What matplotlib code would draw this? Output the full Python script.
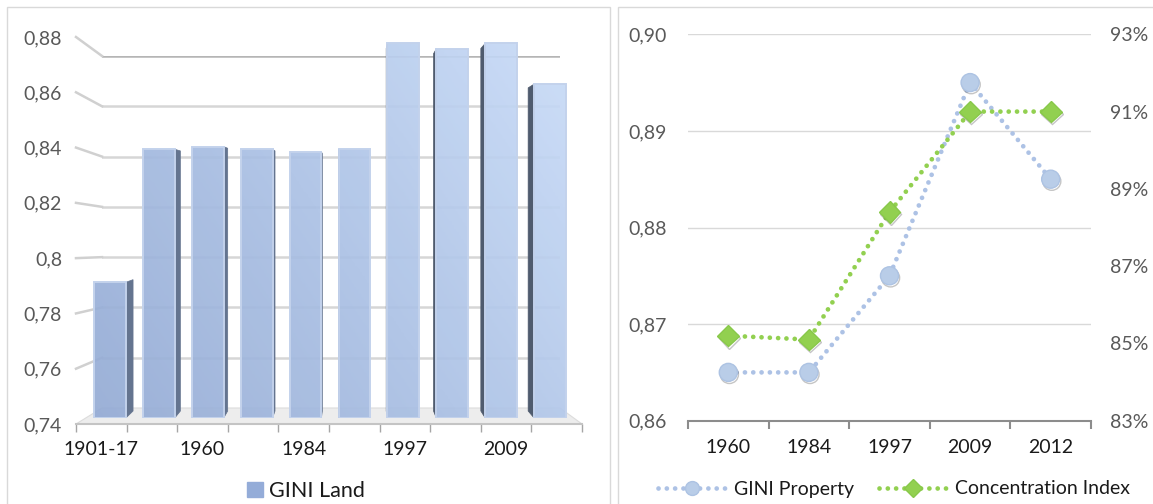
import numpy as np
import matplotlib
matplotlib.use("Agg")
import matplotlib.pyplot as plt
from matplotlib.patches import Polygon, Rectangle, PathPatch, Patch
from matplotlib.path import Path
from matplotlib.lines import Line2D
from matplotlib.colors import LinearSegmentedColormap
from matplotlib import patheffects

plt.rcParams['font.family'] = ['Lato', 'DejaVu Sans']

# ---- data -------------------------------------------------------------
land_values = [0.790, 0.839, 0.840, 0.839, 0.838, 0.839, 0.878, 0.876, 0.878, 0.863]
land_labels = ['1901-17', '1960', '1984', '1997', '2009']   # every other slot
land_ticks = [0.74, 0.76, 0.78, 0.80, 0.82, 0.84, 0.86, 0.88]
land_tick_labels = ['0,74', '0,76', '0,78', '0,8', '0,82', '0,84', '0,86', '0,88']

prop_years = ['1960', '1984', '1997', '2009', '2012']
gini_property = [0.865, 0.865, 0.875, 0.895, 0.885]
concentration_index = [85.2, 85.1, 88.4, 91.0, 91.0]
prop_ticks = [0.86, 0.87, 0.88, 0.89, 0.90]
prop_tick_labels = ['0,86', '0,87', '0,88', '0,89', '0,90']
conc_ticks = [83, 85, 87, 89, 91, 93]
conc_tick_labels = ['83%', '85%', '87%', '89%', '91%', '93%']

# ---- figure -----------------------------------------------------------
W, H = 1153, 504
fig = plt.figure(figsize=(W / 100, H / 100), dpi=100)
fig.patch.set_facecolor('white')


def px_axes(left, top, right, bottom, **kw):
    return fig.add_axes([left / W, 1 - bottom / H, (right - left) / W, (bottom - top) / H], **kw)


def to_fig(ax, x, y):
    d = ax.transData.transform((x, y))
    return fig.transFigure.inverted().transform(d)


# panel frames
for (l, t, r, b) in [(7, 7, 610, 520), (618, 7, 1170, 520)]:
    fig.add_artist(Rectangle((l / W, 1 - b / H), (r - l) / W, (b - t) / H,
                             transform=fig.transFigure, fill=False,
                             edgecolor='#d9d9d9', lw=1.0, zorder=-2))

LABEL_GREY = '#595959'
TEXT_DARK = '#1a1a1a'
FS = 14

# ---- left chart: GINI Land (3-D style columns) -------------------------
ax_wall = px_axes(102, 56, 560, 408)
ax_wall.set_zorder(-3)
ax_wall.set_xlim(0, 1)
ax_wall.set_ylim(0.74, 0.88)
ax_wall.axis('off')
for v in land_ticks[1:]:
    ax_wall.axhline(v, color='#b5b5b5' if v == land_ticks[-1] else '#d6d6d6', lw=1.8, zorder=1)

ax_front = px_axes(76, 37, 582, 424)
ax_front.set_zorder(-1)
ax_front.set_xlim(0, 10)
ax_front.set_ylim(0.74, 0.88)
ax_front.patch.set_visible(False)
for s in ['top', 'right', 'left']:
    ax_front.spines[s].set_visible(False)
ax_front.spines['bottom'].set_color('#c4c4c4')
ax_front.spines['bottom'].set_linewidth(1.5)
ax_front.set_yticks(land_ticks, land_tick_labels)
ax_front.tick_params(axis='y', length=0, pad=10, labelsize=FS, labelcolor=LABEL_GREY)
ax_front.set_xticks(np.arange(0, 11))
ax_front.set_xticklabels([])
ax_front.tick_params(axis='x', which='major', length=6, width=1, color='#a6a6a6', direction='out')
ax_front.set_xticks(np.arange(0.5, 10, 2), minor=True)
ax_front.set_xticklabels(land_labels, minor=True)
ax_front.tick_params(axis='x', which='minor', length=0, pad=12, labelsize=FS, labelcolor=TEXT_DARK)

# floor and the slanted grid stubs joining front labels to the back wall
bl = to_fig(ax_wall, 0, 0.74)
br = to_fig(ax_wall, 1, 0.74)
fr = to_fig(ax_front, 10, 0.74)
fl = to_fig(ax_front, 0, 0.74)
fig.add_artist(Polygon([bl, br, fr, fl], closed=True, transform=fig.transFigure,
                       facecolor='#ededed', edgecolor='#dcdcdc', lw=0.8, zorder=-2))
for v in land_ticks[1:]:
    p0 = to_fig(ax_front, 0, v)
    p1 = to_fig(ax_wall, 0, v)
    fig.add_artist(Line2D([p0[0], p1[0]], [p0[1], p1[1]], transform=fig.transFigure,
                          color='#d0d0d0', lw=1.8, zorder=-2))

ax_bar = px_axes(85.6, 38, 574.4, 418)
ax_bar.set_xlim(-0.5, 9.5)
ax_bar.set_ylim(0.74, 0.88)
ax_bar.axis('off')

bar_w = 0.65
xs = np.arange(len(land_values))
bars = ax_bar.bar(xs, np.array(land_values) - 0.74, bottom=0.74, width=bar_w,
                  facecolor='none', edgecolor='#c3d2ec', lw=1.4, zorder=4)

# gradient fill clipped to the column fronts
cmap = LinearSegmentedColormap.from_list('land', ['#93aad4', '#abc1e5', '#c9dcf8'])
gx, gy = np.meshgrid(np.linspace(0, 1, 200), np.linspace(0, 1, 200))
grad = 0.65 * gx + 0.35 * gy
im = ax_bar.imshow(grad, extent=[-0.5, 9.5, 0.74, 0.88], origin='lower', cmap=cmap,
                   aspect='auto', alpha=0.92, zorder=3, interpolation='bilinear')
compound = Path.make_compound_path(*[Path.unit_rectangle().transformed(b.get_patch_transform())
                                     for b in bars])
clip = PathPatch(compound, transform=ax_bar.transData, facecolor='none', edgecolor='none')
ax_bar.add_patch(clip)
im.set_clip_path(clip)

# side faces, receding toward a vanishing point
vx_img, vy_img, k = 349.0, 200.0, 0.032
vx, vy = vx_img, H - vy_img
for b in bars:
    x0, y0 = ax_bar.transData.transform((b.get_x(), b.get_y()))
    x1, y1 = ax_bar.transData.transform((b.get_x() + b.get_width(), b.get_y() + b.get_height()))
    cx = 0.5 * (x0 + x1)
    if cx < vx:
        ex, col = x1, '#64748f'
    else:
        ex, col = x0, '#4f5b6e'
    dx = k * (vx - ex)
    pts = [(ex, y0), (ex, y1), (ex + dx, y1 + k * (vy - y1)), (ex + dx, y0 + k * (vy - y0))]
    pts = ax_bar.transData.inverted().transform(pts)
    ax_bar.add_patch(Polygon(pts, closed=True, facecolor=col, edgecolor=col, lw=0.5, zorder=3.5))

fig.legend(handles=[Patch(facecolor='#94acd8', edgecolor='#94acd8')], labels=['GINI Land'],
           loc='center', bbox_to_anchor=(306 / W, 1 - 491 / H), frameon=False,
           fontsize=15.5, handlelength=0.72, handleheight=0.72, handletextpad=0.3,
           labelcolor=TEXT_DARK)

# ---- right chart: GINI Property and Concentration Index ----------------
ax_r = px_axes(688, 34.3, 1091, 420.7)
ax_r.set_xlim(-0.5, 4.5)
ax_r.set_ylim(0.86, 0.90)
for s in ['top', 'right', 'left']:
    ax_r.spines[s].set_visible(False)
ax_r.spines['bottom'].set_color('#8c8c8c')
ax_r.spines['bottom'].set_linewidth(1.5)
ax_r.set_yticks(prop_ticks, prop_tick_labels)
ax_r.tick_params(axis='y', length=0, pad=15, labelsize=FS, labelcolor=LABEL_GREY)
ax_r.grid(axis='y', color='#d9d9d9', lw=1)
ax_r.set_axisbelow(True)
ax_r.set_xticks(np.arange(-0.5, 5, 1))
ax_r.set_xticklabels([])
ax_r.tick_params(axis='x', which='major', length=6, width=1.5, color='#8c8c8c', direction='out')
ax_r.set_xticks(np.arange(5), minor=True)
ax_r.set_xticklabels(prop_years, minor=True)
ax_r.tick_params(axis='x', which='minor', length=0, pad=13, labelsize=FS, labelcolor=TEXT_DARK)

ax_r2 = ax_r.twinx()
ax_r2.set_ylim(83, 93)
for s in ax_r2.spines.values():
    s.set_visible(False)
ax_r2.set_yticks(conc_ticks, conc_tick_labels)
ax_r2.tick_params(axis='y', length=0, pad=14, labelsize=FS, labelcolor=LABEL_GREY)

dot = (0, (0.01, 1.75))
shadow = [patheffects.SimpleLineShadow(offset=(0.8, -1.5), shadow_color='#5a5a5a', alpha=0.35),
          patheffects.Normal()]
blue_line, blue_marker = '#adc2e5', '#b9cde8'
green = '#92d050'

x = np.arange(len(prop_years))
ax_r.plot(x, gini_property, color=blue_line, lw=3.4, ls=dot, dash_capstyle='round', zorder=3)
ax_r.plot(x, gini_property, ls='none', marker='o', ms=13, mfc=blue_marker, mec='#adc3e3',
          mew=1, zorder=4, path_effects=shadow)
ax_r2.plot(x, concentration_index, color=green, lw=3.4, ls=dot, dash_capstyle='round', zorder=3)
ax_r2.plot(x, concentration_index, ls='none', marker='D', ms=11, mfc=green, mec='#88c84a',
           mew=1, zorder=4, path_effects=shadow)

h1 = Line2D([], [], color=blue_line, lw=3.4, ls=dot, dash_capstyle='round',
            marker='o', ms=10, mfc=blue_marker, mec='#adc3e3')
h2 = Line2D([], [], color=green, lw=3.4, ls=dot, dash_capstyle='round',
            marker='D', ms=9, mfc=green, mec='#88c84a')
fig.legend(handles=[h1, h2], labels=['GINI Property', 'Concentration Index'],
           loc='center', bbox_to_anchor=(894 / W, 1 - 489 / H), ncol=2, frameon=False,
           fontsize=14, handlelength=3.5, handletextpad=0.4, columnspacing=1.3,
           labelcolor=TEXT_DARK)

fig.savefig('out.png', dpi=100, facecolor='white')
